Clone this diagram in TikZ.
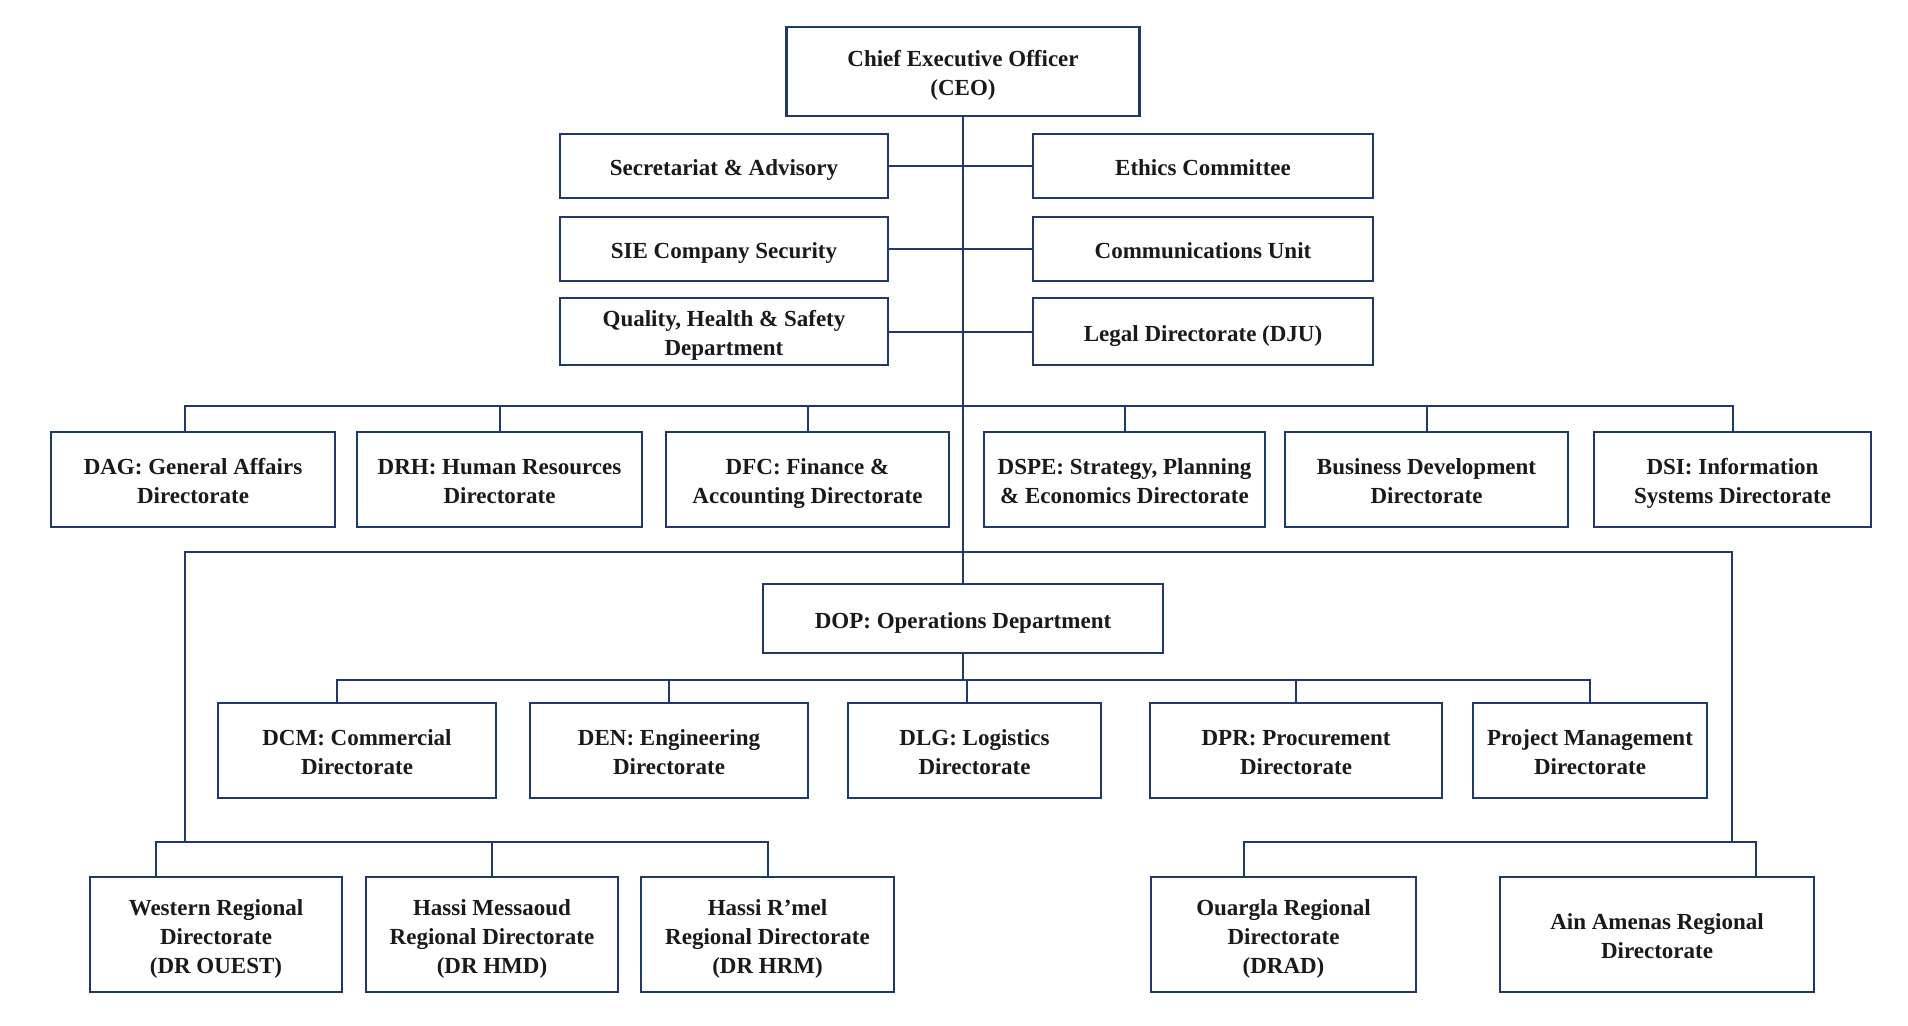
\documentclass[tikz,border=0pt]{standalone}
\usepackage{fontspec}
\setmainfont{Liberation Serif}
\newcommand{\bxt}[1]{\raisebox{-4pt}[\height][\depth]{\begin{tabular}{@{}c@{}}#1\end{tabular}}}
\begin{document}
\begin{tikzpicture}[x=1pt,y=-1pt,
  every node/.style={inner sep=0pt, outer sep=0pt},
  box/.style={draw=navy, line width=2.8pt, fill=white, align=center, text=txt,
    font=\fontsize{23}{29}\selectfont\bfseries},
  link/.style={draw=navy, line width=2pt}]
\definecolor{navy}{HTML}{1F3A6A}
\definecolor{txt}{HTML}{1A1A1A}
\useasboundingbox[fill=white] (0,0) rectangle (1908,1025);

% CEO and staff
\node[box, minimum width=353pt, minimum height=89pt] (ceo) at (963,71.5) {\bxt{Chief Executive Officer\\(CEO)}};
\node[box, minimum width=328pt, minimum height=64pt] (sec) at (724,166) {\bxt{Secretariat \& Advisory}};
\node[box, minimum width=340pt, minimum height=64pt] (eth) at (1203,166) {\bxt{Ethics Committee}};
\node[box, minimum width=328pt, minimum height=64pt] (sie) at (724,249) {\bxt{SIE Company Security}};
\node[box, minimum width=340pt, minimum height=64pt] (com) at (1203,249) {\bxt{Communications Unit}};
\node[box, minimum width=328pt, minimum height=67pt] (qhs) at (724,331.5) {\bxt{Quality, Health \& Safety\\Department}};
\node[box, minimum width=340pt, minimum height=67pt] (leg) at (1203,331.5) {\bxt{Legal Directorate (DJU)}};

% first row of directorates
\node[box, minimum width=284pt, minimum height=95pt] (dag) at (193,479.5) {\bxt{DAG: General Affairs\\Directorate}};
\node[box, minimum width=285pt, minimum height=95pt] (drh) at (499.5,479.5) {\bxt{DRH: Human Resources\\Directorate}};
\node[box, minimum width=283pt, minimum height=95pt] (dfc) at (807.5,479.5) {\bxt{DFC: Finance \&\\Accounting Directorate}};
\node[box, minimum width=281pt, minimum height=95pt] (dspe) at (1124.5,479.5) {\bxt{DSPE: Strategy, Planning\\\& Economics Directorate}};
\node[box, minimum width=283pt, minimum height=95pt] (bd) at (1426.5,479.5) {\bxt{Business Development\\Directorate}};
\node[box, minimum width=277pt, minimum height=95pt] (dsi) at (1732.5,479.5) {\bxt{DSI: Information\\Systems Directorate}};

% operations
\node[box, minimum width=400pt, minimum height=69pt] (dop) at (963,618.5) {\bxt{DOP: Operations Department}};
\node[box, minimum width=278pt, minimum height=95pt] (dcm) at (357,750.5) {\bxt{DCM: Commercial\\Directorate}};
\node[box, minimum width=278pt, minimum height=95pt] (den) at (669,750.5) {\bxt{DEN: Engineering\\Directorate}};
\node[box, minimum width=253pt, minimum height=95pt] (dlg) at (974.5,750.5) {\bxt{DLG: Logistics\\Directorate}};
\node[box, minimum width=292pt, minimum height=95pt] (dpr) at (1296,750.5) {\bxt{DPR: Procurement\\Directorate}};
\node[box, minimum width=234pt, minimum height=95pt] (pm) at (1590,750.5) {\bxt{Project Management\\Directorate}};

% regional
\node[box, minimum width=252pt, minimum height=115pt] (wes) at (216,934.5) {\bxt{Western Regional\\Directorate\\(DR OUEST)}};
\node[box, minimum width=252pt, minimum height=115pt] (hmd) at (492,934.5) {\bxt{Hassi Messaoud\\Regional Directorate\\(DR HMD)}};
\node[box, minimum width=253pt, minimum height=115pt] (hrm) at (767.5,934.5) {\bxt{Hassi R\textquoteright mel\\Regional Directorate\\(DR HRM)}};
\node[box, minimum width=265pt, minimum height=115pt] (oua) at (1283.5,934.5) {\bxt{Ouargla Regional\\Directorate\\(DRAD)}};
\node[box, minimum width=314pt, minimum height=115pt] (ain) at (1657,934.5) {\bxt{Ain Amenas Regional\\Directorate}};

% bus coordinates
\coordinate (bus1) at (963,406);
\coordinate (bus2) at (963,552);
\coordinate (bus3) at (963,680);
\coordinate (regL) at (185,842);
\coordinate (regR) at (1732,842);

% connectors
\draw[link] (sec.east) -- (eth.west);
\draw[link] (sie.east) -- (com.west);
\draw[link] (qhs.east) -- (leg.west);
\draw[link] (ceo.south) -- (dop.north);

\draw[link] ([xshift=-8pt]dag.north) |- (dsi.north |- bus1) -- (dsi.north);
\foreach \n in {drh,dfc,dspe,bd}{\draw[link] (\n.north) -- (\n.north |- bus1);}

\draw[link] (regL) |- (regR |- bus2) -- (regR);

\draw[link] ([xshift=-20pt]dcm.north) |- (pm.north |- bus3) -- (pm.north);
\draw[link] (den.north) -- (den.north |- bus3);
\draw[link] ([xshift=-8pt]dlg.north) -- ([xshift=-8pt]dlg.north |- bus3);
\draw[link] (dpr.north) -- (dpr.north |- bus3);
\draw[link] (dop.south) -- (dop.south |- bus3);

\draw[link] ([xshift=-60pt]wes.north) |- (hrm.north |- regL) -- (hrm.north);
\draw[link] (hmd.north) -- (hmd.north |- regL);
\draw[link] ([xshift=-40pt]oua.north) |- ([xshift=99pt]ain.north |- regR) -- ([xshift=99pt]ain.north);
\end{tikzpicture}
\end{document}
